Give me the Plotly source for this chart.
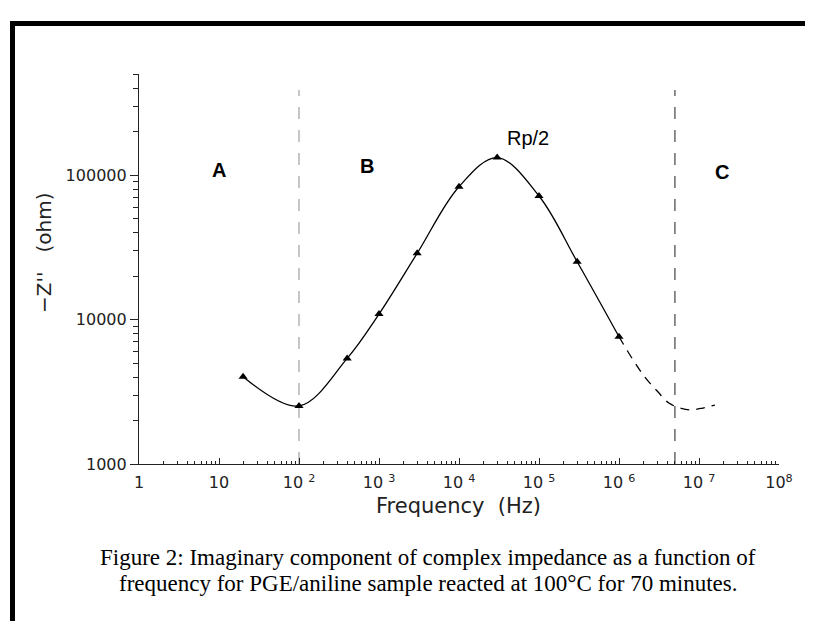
import plotly.graph_objects as go

# ---- data ----
freq_hz = [20, 100, 400, 1000, 3000, 10000, 30000, 100000, 300000, 1000000]
z_imag_ohm = [4020, 2520, 5380, 10900, 28700, 83000, 132000, 71600, 25100, 7600]

extrap_freq_hz = [1e6, 1.5e6, 2.1e6, 3e6, 4.2e6, 6e6, 8e6, 1.12e7, 1.58e7]
extrap_z_ohm = [7600, 5250, 4000, 3200, 2640, 2430, 2370, 2440, 2560]

region_bounds_hz = [100, 5e6]
region_labels = ["A", "B", "C"]

x_tickvals = [1, 10, 100, 1e3, 1e4, 1e5, 1e6, 1e7, 1e8]
x_ticktext = ["1", "10", "10 <sup>2</sup>", "10 <sup>3</sup>", "10 <sup>4</sup>",
              "10 <sup>5</sup>", "10 <sup>6</sup>", "10 <sup>7</sup>", "10<sup>8</sup>"]
y_tickvals = [1000, 10000, 100000]
y_ticktext = ["1000", "10000", "100000"]

caption_lines = [
    "Figure 2: Imaginary component of complex impedance as a function of",
    "frequency for PGE/aniline sample reacted at 100°C for 70 minutes.",
]

# ---- geometry (pixels in the 813x621 window; page body has an 8px margin) ----
OFF = 8
W, H = 813 - OFF, 621 - OFF
L, R, T, B = 139, 779, 74, 464   # window pixel coords of plot area


def px(xp):
    return (xp - L) / (R - L)


def py(yp):
    return (B - yp) / (B - T)


fig = go.Figure()

fig.add_trace(go.Scatter(
    x=freq_hz, y=z_imag_ohm, mode="lines",
    line=dict(color="black", width=1.3, shape="spline", smoothing=1.0),
    hoverinfo="skip", showlegend=False))

fig.add_trace(go.Scatter(
    x=extrap_freq_hz, y=extrap_z_ohm, mode="lines",
    line=dict(color="black", width=1.3, shape="spline", smoothing=1.0, dash="9px,7px"),
    hoverinfo="skip", showlegend=False))

fig.add_trace(go.Scatter(
    x=freq_hz, y=z_imag_ohm, mode="markers",
    marker=dict(symbol="triangle-up", size=8, color="black"),
    showlegend=False))

# vertical region boundaries
bound_colors = ["#a0a0a0", "#444444"]
for xb, col in zip(region_bounds_hz, bound_colors):
    fig.add_shape(type="line", xref="x", yref="paper", x0=xb, x1=xb,
                  y0=0, y1=py(90), line=dict(color=col, width=1.2, dash="12px,11px"),
                  layer="below")

# frame border (thick black top + left)
fig.add_shape(type="rect", xref="paper", yref="paper",
              x0=px(10), x1=px(813), y0=py(26), y1=py(21),
              fillcolor="black", line=dict(width=0))
fig.add_shape(type="rect", xref="paper", yref="paper",
              x0=px(10), x1=px(15), y0=py(621), y1=py(21),
              fillcolor="black", line=dict(width=0))

ann = []
label_pos = [(219, 170), (367, 166), (722, 172)]
for lab, (xx, yy) in zip(region_labels, label_pos):
    ann.append(dict(text="<b>%s</b>" % lab, x=px(xx), y=py(yy), xref="paper", yref="paper",
                    showarrow=False, font=dict(family="Liberation Sans, Arial", size=20, color="black"),
                    xanchor="center", yanchor="middle"))
ann.append(dict(text="Rp/2", x=px(528), y=py(138), xref="paper", yref="paper",
                showarrow=False, font=dict(family="Liberation Sans, Arial", size=20, color="black"),
                xanchor="center", yanchor="middle"))
# axis titles
ann.append(dict(text="Frequency  (Hz)", x=px(458), y=py(506), xref="paper", yref="paper",
                showarrow=False, font=dict(family="DejaVu Sans", size=21, color="#222"),
                xanchor="center", yanchor="middle"))
ann.append(dict(text="\u2212Z''   (ohm)", x=px(44), y=py(253), xref="paper", yref="paper",
                showarrow=False, textangle=-90,
                font=dict(family="DejaVu Sans", size=20, color="#222"),
                xanchor="center", yanchor="middle"))
# caption
for line, yy in zip(caption_lines, [557, 583]):
    ann.append(dict(text=line, x=px(428), y=py(yy), xref="paper", yref="paper",
                    showarrow=False, font=dict(family="Liberation Serif, Times New Roman", size=23, color="black"),
                    xanchor="center", yanchor="middle"))

x_minor = [m * 10 ** k for k in range(0, 8) for m in range(2, 10)]
y_minor = [m * 10 ** k for k in range(3, 6) for m in range(2, 10) if m * 10 ** k <= 5e5]

fig.update_layout(
    width=W, height=H,
    margin=dict(l=L - OFF, r=813 - R, t=T - OFF, b=621 - B),
    paper_bgcolor="white", plot_bgcolor="white",
    annotations=ann,
    xaxis=dict(type="log", range=[0, 8], showgrid=False, zeroline=False,
               showline=True, linecolor="#222", linewidth=1.2,
               tickmode="array", tickvals=x_tickvals, ticktext=x_ticktext,
               ticks="inside", ticklen=6, tickcolor="#222", tickwidth=1,
               ticklabelstandoff=4,
               tickfont=dict(family="DejaVu Sans", size=16, color="#222"),
               minor=dict(tickmode="array", tickvals=x_minor, ticks="inside",
                          ticklen=3, tickcolor="#222", showgrid=False)),
    yaxis=dict(type="log", range=[3, 5.69897], showgrid=False, zeroline=False,
               showline=True, linecolor="#222", linewidth=1.2,
               tickmode="array", tickvals=y_tickvals, ticktext=y_ticktext,
               ticks="outside", ticklen=8, tickcolor="#222", tickwidth=1,
               tickfont=dict(family="DejaVu Sans", size=16, color="#222"),
               minor=dict(tickmode="array", tickvals=y_minor, ticks="outside",
                          ticklen=5, tickcolor="#222", showgrid=False)),
)

fig.write_html("out.html")
